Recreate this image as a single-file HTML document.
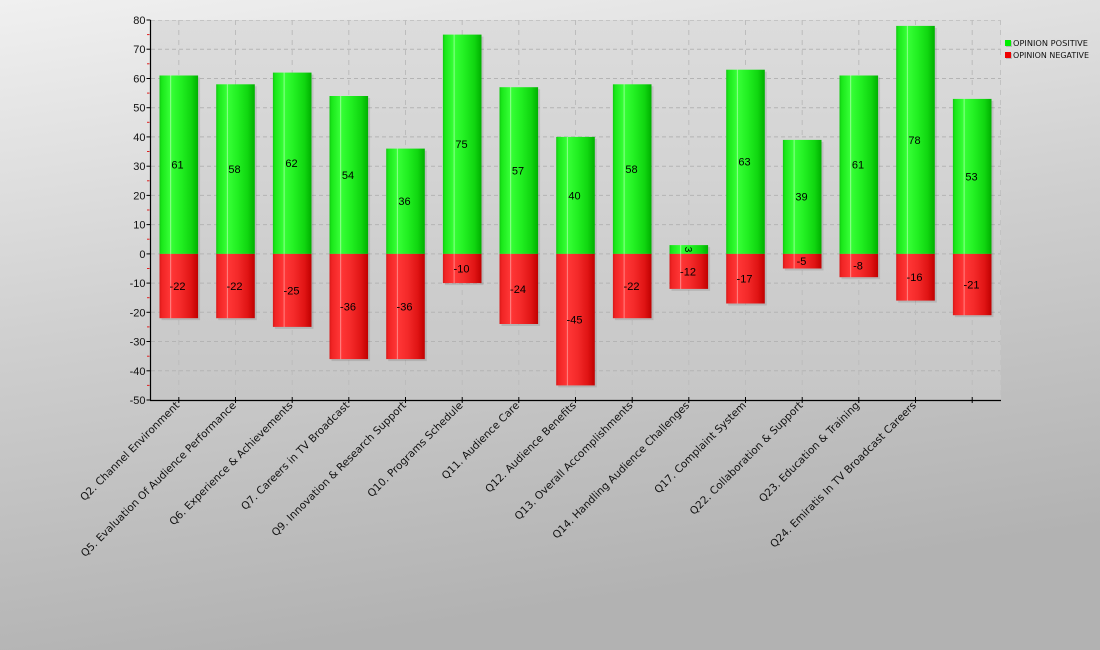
<!DOCTYPE html>
<html>
<head>
<meta charset="utf-8">
<style>
html,body{margin:0;padding:0;}
body{width:1100px;height:650px;overflow:hidden;}
svg{display:block;}
.yl{font-family:"Liberation Sans",sans-serif;font-size:11px;fill:#111;text-anchor:end;}
.vl{font-family:"Liberation Sans",sans-serif;font-size:11px;fill:#000;text-anchor:middle;}
.xl{font-family:"DejaVu Sans","Liberation Sans",sans-serif;font-size:10.5px;fill:#111;text-anchor:end;}
.lg{font-family:"DejaVu Sans","Liberation Sans",sans-serif;font-size:7.5px;fill:#111;}
</style>
</head>
<body>
<svg width="1100" height="650" viewBox="0 0 1100 650" xmlns="http://www.w3.org/2000/svg">
<defs>
  <linearGradient id="bg" x1="0" y1="0" x2="0.25" y2="1">
    <stop offset="0" stop-color="#f0f0f0"/>
    <stop offset="0.5" stop-color="#cfcfcf"/>
    <stop offset="1" stop-color="#b2b2b2"/>
  </linearGradient>
  <linearGradient id="pbg" x1="0" y1="0" x2="0" y2="1">
    <stop offset="0" stop-color="#dcdcdc"/>
    <stop offset="1" stop-color="#c6c6c6"/>
  </linearGradient>
  <linearGradient id="gG" x1="0" y1="0" x2="1" y2="0">
    <stop offset="0" stop-color="#10c810"/>
    <stop offset="0.06" stop-color="#1ae81a"/>
    <stop offset="0.27" stop-color="#36ff36"/>
    <stop offset="0.29" stop-color="#a8ffa8"/>
    <stop offset="0.31" stop-color="#36ff36"/>
    <stop offset="0.55" stop-color="#22f022"/>
    <stop offset="0.82" stop-color="#10d610"/>
    <stop offset="1" stop-color="#00b000"/>
  </linearGradient>
  <linearGradient id="gR" x1="0" y1="0" x2="1" y2="0">
    <stop offset="0" stop-color="#d81818"/>
    <stop offset="0.06" stop-color="#f02424"/>
    <stop offset="0.27" stop-color="#ff3636"/>
    <stop offset="0.29" stop-color="#ff9c9c"/>
    <stop offset="0.31" stop-color="#ff3636"/>
    <stop offset="0.55" stop-color="#f42a2a"/>
    <stop offset="0.82" stop-color="#e01414"/>
    <stop offset="1" stop-color="#c00000"/>
  </linearGradient>
</defs>

<rect x="0" y="0" width="1100" height="650" fill="url(#bg)"/>
<rect x="150.5" y="20" width="850.5" height="380" fill="url(#pbg)"/>

<!-- horizontal grid -->
<g stroke="#b4b4b4" stroke-width="1" stroke-dasharray="4,3" fill="none">
  <line x1="151" y1="20.5" x2="1001" y2="20.5" stroke="#c4c4c4"/>
  <line x1="151" y1="49.2" x2="1001" y2="49.2"/>
  <line x1="151" y1="78.5" x2="1001" y2="78.5"/>
  <line x1="151" y1="107.7" x2="1001" y2="107.7"/>
  <line x1="151" y1="136.9" x2="1001" y2="136.9"/>
  <line x1="151" y1="166.2" x2="1001" y2="166.2"/>
  <line x1="151" y1="195.4" x2="1001" y2="195.4"/>
  <line x1="151" y1="224.6" x2="1001" y2="224.6"/>
  <line x1="151" y1="253.9" x2="1001" y2="253.9"/>
  <line x1="151" y1="283.1" x2="1001" y2="283.1"/>
  <line x1="151" y1="312.3" x2="1001" y2="312.3"/>
  <line x1="151" y1="341.5" x2="1001" y2="341.5"/>
  <line x1="151" y1="370.8" x2="1001" y2="370.8"/>
</g>
<!-- vertical grid -->
<g stroke="#bcbcbc" stroke-width="1" stroke-dasharray="5,5" fill="none">
  <line x1="178.8" y1="20" x2="178.8" y2="400"/>
  <line x1="235.5" y1="20" x2="235.5" y2="400"/>
  <line x1="292.2" y1="20" x2="292.2" y2="400"/>
  <line x1="348.8" y1="20" x2="348.8" y2="400"/>
  <line x1="405.5" y1="20" x2="405.5" y2="400"/>
  <line x1="462.2" y1="20" x2="462.2" y2="400"/>
  <line x1="518.8" y1="20" x2="518.8" y2="400"/>
  <line x1="575.5" y1="20" x2="575.5" y2="400"/>
  <line x1="632.2" y1="20" x2="632.2" y2="400"/>
  <line x1="688.8" y1="20" x2="688.8" y2="400"/>
  <line x1="745.5" y1="20" x2="745.5" y2="400"/>
  <line x1="802.2" y1="20" x2="802.2" y2="400"/>
  <line x1="858.8" y1="20" x2="858.8" y2="400"/>
  <line x1="915.5" y1="20" x2="915.5" y2="400"/>
  <line x1="972.2" y1="20" x2="972.2" y2="400"/>
  <line x1="1000.5" y1="20" x2="1000.5" y2="400" stroke="#c2c2c2"/>
</g>

<!-- bar shadows -->
<g fill="#000" opacity="0.10">
  <rect x="161.5" y="77.5" width="38.6" height="242.7"/>
  <rect x="218.2" y="86.3" width="38.6" height="233.9"/>
  <rect x="274.9" y="74.6" width="38.6" height="254.3"/>
  <rect x="331.5" y="98" width="38.6" height="263.1"/>
  <rect x="388.2" y="150.6" width="38.6" height="210.5"/>
  <rect x="444.9" y="36.6" width="38.6" height="248.5"/>
  <rect x="501.5" y="89.2" width="38.6" height="236.8"/>
  <rect x="558.2" y="138.9" width="38.6" height="248.5"/>
  <rect x="614.9" y="86.3" width="38.6" height="233.9"/>
  <rect x="671.5" y="247.1" width="38.6" height="43.8"/>
  <rect x="728.2" y="71.7" width="38.6" height="233.8"/>
  <rect x="784.9" y="141.9" width="38.6" height="128.6"/>
  <rect x="841.5" y="77.5" width="38.6" height="201.7"/>
  <rect x="898.2" y="27.9" width="38.6" height="274.7"/>
  <rect x="954.9" y="100.9" width="38.6" height="216.3"/>
</g>

<!-- positive bars -->
<g fill="url(#gG)">
  <rect x="159.5" y="75.5" width="38.6" height="178.4"/>
  <rect x="216.2" y="84.3" width="38.6" height="169.6"/>
  <rect x="272.9" y="72.6" width="38.6" height="181.3"/>
  <rect x="329.5" y="96.0" width="38.6" height="157.9"/>
  <rect x="386.2" y="148.6" width="38.6" height="105.3"/>
  <rect x="442.9" y="34.6" width="38.6" height="219.3"/>
  <rect x="499.5" y="87.2" width="38.6" height="166.7"/>
  <rect x="556.2" y="136.9" width="38.6" height="117.0"/>
  <rect x="612.9" y="84.3" width="38.6" height="169.6"/>
  <rect x="669.5" y="245.1" width="38.6" height="8.8"/>
  <rect x="726.2" y="69.7" width="38.6" height="184.2"/>
  <rect x="782.9" y="139.9" width="38.6" height="114.0"/>
  <rect x="839.5" y="75.5" width="38.6" height="178.4"/>
  <rect x="896.2" y="25.9" width="38.6" height="228.0"/>
  <rect x="952.9" y="98.9" width="38.6" height="155.0"/>
</g>
<!-- negative bars -->
<g fill="url(#gR)">
  <rect x="159.5" y="253.9" width="38.6" height="64.3"/>
  <rect x="216.2" y="253.9" width="38.6" height="64.3"/>
  <rect x="272.9" y="253.9" width="38.6" height="73.0"/>
  <rect x="329.5" y="253.9" width="38.6" height="105.2"/>
  <rect x="386.2" y="253.9" width="38.6" height="105.2"/>
  <rect x="442.9" y="253.9" width="38.6" height="29.2"/>
  <rect x="499.5" y="253.9" width="38.6" height="70.1"/>
  <rect x="556.2" y="253.9" width="38.6" height="131.5"/>
  <rect x="612.9" y="253.9" width="38.6" height="64.3"/>
  <rect x="669.5" y="253.9" width="38.6" height="35.0"/>
  <rect x="726.2" y="253.9" width="38.6" height="49.6"/>
  <rect x="782.9" y="253.9" width="38.6" height="14.6"/>
  <rect x="839.5" y="253.9" width="38.6" height="23.3"/>
  <rect x="896.2" y="253.9" width="38.6" height="46.7"/>
  <rect x="952.9" y="253.9" width="38.6" height="61.3"/>
</g>

<!-- value labels -->
<g class="vl">
  <text x="177.5" y="168.5" class="vl">61</text>
  <text x="234.5" y="173" class="vl">58</text>
  <text x="291.5" y="167" class="vl">62</text>
  <text x="348" y="179" class="vl">54</text>
  <text x="404.5" y="205" class="vl">36</text>
  <text x="461.5" y="148" class="vl">75</text>
  <text x="518" y="174.5" class="vl">57</text>
  <text x="574.5" y="199.5" class="vl">40</text>
  <text x="631.5" y="173" class="vl">58</text>
  <text x="744.5" y="165.5" class="vl">63</text>
  <text x="801.5" y="200.5" class="vl">39</text>
  <text x="858" y="168.5" class="vl">61</text>
  <text x="914.5" y="144" class="vl">78</text>
  <text x="971.5" y="180.5" class="vl">53</text>

  <text x="177.5" y="290" class="vl">-22</text>
  <text x="234.5" y="290" class="vl">-22</text>
  <text x="291.5" y="294.5" class="vl">-25</text>
  <text x="348" y="310.5" class="vl">-36</text>
  <text x="404.5" y="310.5" class="vl">-36</text>
  <text x="461.5" y="272.5" class="vl">-10</text>
  <text x="518" y="293" class="vl">-24</text>
  <text x="574.5" y="323.5" class="vl">-45</text>
  <text x="631.5" y="290" class="vl">-22</text>
  <text x="688" y="275.5" class="vl">-12</text>
  <text x="744.5" y="282.5" class="vl">-17</text>
  <text x="801.5" y="265" class="vl">-5</text>
  <text x="858" y="269.5" class="vl">-8</text>
  <text x="914.5" y="281" class="vl">-16</text>
  <text x="971.5" y="288.5" class="vl">-21</text>
</g>
<text x="0" y="0" class="vl" style="font-size:10px" transform="translate(684.8,249.5) rotate(90)">3</text>

<!-- axes -->
<line x1="150.5" y1="20" x2="150.5" y2="400.5" stroke="#000" stroke-width="1.2"/>
<line x1="150" y1="400.5" x2="1001" y2="400.5" stroke="#000" stroke-width="1.2"/>

<!-- y major ticks -->
<g stroke="#000" stroke-width="1">
  <line x1="146.5" y1="20" x2="150.5" y2="20"/>
  <line x1="146.5" y1="49.2" x2="150.5" y2="49.2"/>
  <line x1="146.5" y1="78.5" x2="150.5" y2="78.5"/>
  <line x1="146.5" y1="107.7" x2="150.5" y2="107.7"/>
  <line x1="146.5" y1="136.9" x2="150.5" y2="136.9"/>
  <line x1="146.5" y1="166.2" x2="150.5" y2="166.2"/>
  <line x1="146.5" y1="195.4" x2="150.5" y2="195.4"/>
  <line x1="146.5" y1="224.6" x2="150.5" y2="224.6"/>
  <line x1="146.5" y1="253.9" x2="150.5" y2="253.9"/>
  <line x1="146.5" y1="283.1" x2="150.5" y2="283.1"/>
  <line x1="146.5" y1="312.3" x2="150.5" y2="312.3"/>
  <line x1="146.5" y1="341.5" x2="150.5" y2="341.5"/>
  <line x1="146.5" y1="370.8" x2="150.5" y2="370.8"/>
  <line x1="146.5" y1="400" x2="150.5" y2="400"/>
</g>
<!-- y minor ticks -->
<g stroke="#e02020" stroke-width="1">
  <line x1="147" y1="34.6" x2="149.5" y2="34.6"/>
  <line x1="147" y1="63.8" x2="149.5" y2="63.8"/>
  <line x1="147" y1="93.1" x2="149.5" y2="93.1"/>
  <line x1="147" y1="122.3" x2="149.5" y2="122.3"/>
  <line x1="147" y1="151.5" x2="149.5" y2="151.5"/>
  <line x1="147" y1="180.8" x2="149.5" y2="180.8"/>
  <line x1="147" y1="210" x2="149.5" y2="210"/>
  <line x1="147" y1="239.2" x2="149.5" y2="239.2"/>
  <line x1="147" y1="268.5" x2="149.5" y2="268.5"/>
  <line x1="147" y1="297.7" x2="149.5" y2="297.7"/>
  <line x1="147" y1="326.9" x2="149.5" y2="326.9"/>
  <line x1="147" y1="356.2" x2="149.5" y2="356.2"/>
  <line x1="147" y1="385.4" x2="149.5" y2="385.4"/>
</g>
<!-- x ticks -->
<g stroke="#000" stroke-width="1">
  <line x1="178.8" y1="397" x2="178.8" y2="403"/>
  <line x1="235.5" y1="397" x2="235.5" y2="403"/>
  <line x1="292.2" y1="397" x2="292.2" y2="403"/>
  <line x1="348.8" y1="397" x2="348.8" y2="403"/>
  <line x1="405.5" y1="397" x2="405.5" y2="403"/>
  <line x1="462.2" y1="397" x2="462.2" y2="403"/>
  <line x1="518.8" y1="397" x2="518.8" y2="403"/>
  <line x1="575.5" y1="397" x2="575.5" y2="403"/>
  <line x1="632.2" y1="397" x2="632.2" y2="403"/>
  <line x1="688.8" y1="397" x2="688.8" y2="403"/>
  <line x1="745.5" y1="397" x2="745.5" y2="403"/>
  <line x1="802.2" y1="397" x2="802.2" y2="403"/>
  <line x1="858.8" y1="397" x2="858.8" y2="403"/>
  <line x1="915.5" y1="397" x2="915.5" y2="403"/>
  <line x1="972.2" y1="397" x2="972.2" y2="403"/>
</g>

<!-- y labels -->
<g class="yl">
  <text x="145.5" y="24" class="yl">80</text>
  <text x="145.5" y="53.2" class="yl">70</text>
  <text x="145.5" y="82.5" class="yl">60</text>
  <text x="145.5" y="111.7" class="yl">50</text>
  <text x="145.5" y="140.9" class="yl">40</text>
  <text x="145.5" y="170.2" class="yl">30</text>
  <text x="145.5" y="199.4" class="yl">20</text>
  <text x="145.5" y="228.6" class="yl">10</text>
  <text x="145.5" y="257.9" class="yl">0</text>
  <text x="145.5" y="287.1" class="yl">-10</text>
  <text x="145.5" y="316.3" class="yl">-20</text>
  <text x="145.5" y="345.5" class="yl">-30</text>
  <text x="145.5" y="374.8" class="yl">-40</text>
  <text x="145.5" y="404" class="yl">-50</text>
</g>

<!-- x labels -->
<g class="xl">
  <text class="xl" transform="translate(180,406) rotate(-45)">Q2. Channel Environment</text>
  <text class="xl" transform="translate(236.7,406) rotate(-45)">Q5. Evaluation Of Audience Performance</text>
  <text class="xl" transform="translate(293.4,406) rotate(-45)">Q6. Experience &amp; Achievements</text>
  <text class="xl" transform="translate(350,406) rotate(-45)">Q7. Careers in TV Broadcast</text>
  <text class="xl" transform="translate(406.7,406) rotate(-45)">Q9. Innovation &amp; Research Support</text>
  <text class="xl" transform="translate(463.4,406) rotate(-45)">Q10. Programs Schedule</text>
  <text class="xl" transform="translate(520,406) rotate(-45)">Q11. Audience Care</text>
  <text class="xl" transform="translate(576.7,406) rotate(-45)">Q12. Audience Benefits</text>
  <text class="xl" transform="translate(633.4,406) rotate(-45)">Q13. Overall Accomplishments</text>
  <text class="xl" transform="translate(690,406) rotate(-45)">Q14. Handling Audience Challenges</text>
  <text class="xl" transform="translate(746.7,406) rotate(-45)">Q17. Complaint System</text>
  <text class="xl" transform="translate(803.4,406) rotate(-45)">Q22. Collaboration &amp; Support</text>
  <text class="xl" transform="translate(860,406) rotate(-45)">Q23. Education &amp; Training</text>
  <text class="xl" transform="translate(916.7,406) rotate(-45)">Q24. Emiratis In TV Broadcast Careers</text>
</g>

<!-- legend -->
<rect x="1006" y="41" width="6" height="6" fill="#888" opacity="0.4"/>
<rect x="1005" y="40" width="6" height="6" fill="#00ee00"/>
<rect x="1006" y="53" width="6" height="6" fill="#888" opacity="0.4"/>
<rect x="1005" y="52" width="6" height="6" fill="#ee0000"/>
<text x="1013" y="46" class="lg" textLength="75" lengthAdjust="spacingAndGlyphs">OPINION POSITIVE</text>
<text x="1013" y="58" class="lg" textLength="76" lengthAdjust="spacingAndGlyphs">OPINION NEGATIVE</text>
</svg>
</body>
</html>
